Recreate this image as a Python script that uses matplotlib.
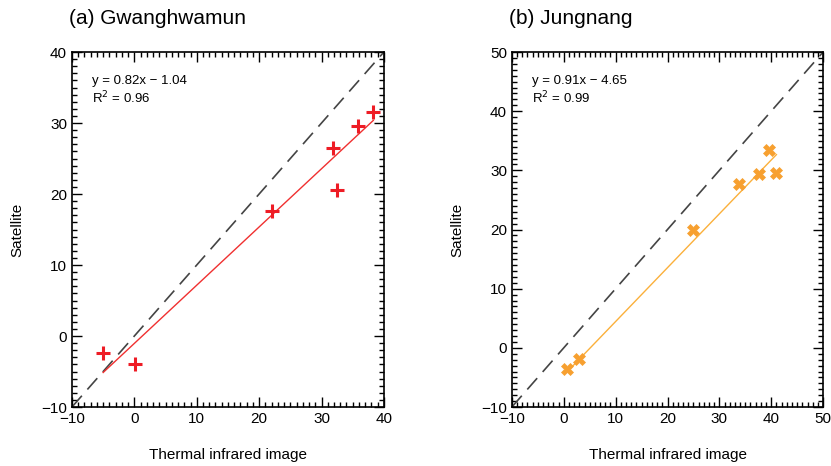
import matplotlib
matplotlib.use('Agg')
import matplotlib.pyplot as plt
import numpy as np
from matplotlib.ticker import MultipleLocator

plt.rcParams['font.family'] = ['Liberation Sans', 'DejaVu Sans']

# (a) Gwanghwamun
gw_x = [-5.0, 0.1, 22.0, 31.8, 32.4, 35.8, 38.3]
gw_y = [-2.4, -4.0, 17.6, 26.5, 20.5, 29.6, 31.6]
gw_slope, gw_icpt = 0.82, -1.04

# (b) Jungnang
jn_x = [0.6, 3.0, 25.0, 33.8, 37.6, 39.5, 41.0]
jn_y = [-3.6, -1.9, 20.0, 27.7, 29.4, 33.5, 29.6]
jn_slope, jn_icpt = 0.91, -4.65

fig = plt.figure(figsize=(8.31, 4.66), dpi=100)
ax1 = fig.add_axes([0.0866, 0.1266, 0.3754, 0.7618])
ax2 = fig.add_axes([0.616, 0.1266, 0.3745, 0.7618])


def style(ax, lo, hi):
    ax.set_xlim(lo, hi)
    ax.set_ylim(lo, hi)
    ax.xaxis.set_major_locator(MultipleLocator(10))
    ax.yaxis.set_major_locator(MultipleLocator(10))
    ax.xaxis.set_minor_locator(MultipleLocator(1))
    ax.yaxis.set_minor_locator(MultipleLocator(1))
    ax.tick_params(which='both', direction='in', top=True, right=True,
                   labelsize=11, width=1.0)
    ax.tick_params(which='major', length=7)
    ax.tick_params(which='minor', length=3.5)
    for s in ax.spines.values():
        s.set_linewidth(1.2)
    ax.plot([lo, hi], [lo, hi], color='#444444', lw=1.2, dashes=(9, 5))
    ax.set_xlabel('Thermal infrared image', fontsize=11, labelpad=16)
    ax.set_ylabel('Satellite', fontsize=11, labelpad=12)


style(ax1, -10, 40)
fx = np.array([min(gw_x), max(gw_x)])
ax1.plot(fx, gw_slope * fx + gw_icpt, color='#f03030', lw=1.0)
ax1.plot(gw_x, gw_y, ls='none', marker='+', ms=10, mew=2.2, color='#ee1c25')
ax1.text(0.065, 0.91, 'y = 0.82x \u2212 1.04', transform=ax1.transAxes, fontsize=9.5)
ax1.text(0.065, 0.855, 'R$^2$ = 0.96', transform=ax1.transAxes, fontsize=9.5)
ax1.set_title('(a) Gwanghwamun', loc='left', fontsize=15, x=-0.01, pad=20)

style(ax2, -10, 50)
fx = np.array([min(jn_x), max(jn_x)])
ax2.plot(fx, jn_slope * fx + jn_icpt, color='#fbb03b', lw=1.0)
ax2.plot(jn_x, jn_y, ls='none', marker='X', ms=9, mew=0.5, color='#f7a030')
ax2.text(0.065, 0.91, 'y = 0.91x \u2212 4.65', transform=ax2.transAxes, fontsize=9.5)
ax2.text(0.065, 0.855, 'R$^2$ = 0.99', transform=ax2.transAxes, fontsize=9.5)
ax2.set_title('(b) Jungnang', loc='left', fontsize=15, x=-0.01, pad=20)

fig.savefig('out.png', dpi=100)
